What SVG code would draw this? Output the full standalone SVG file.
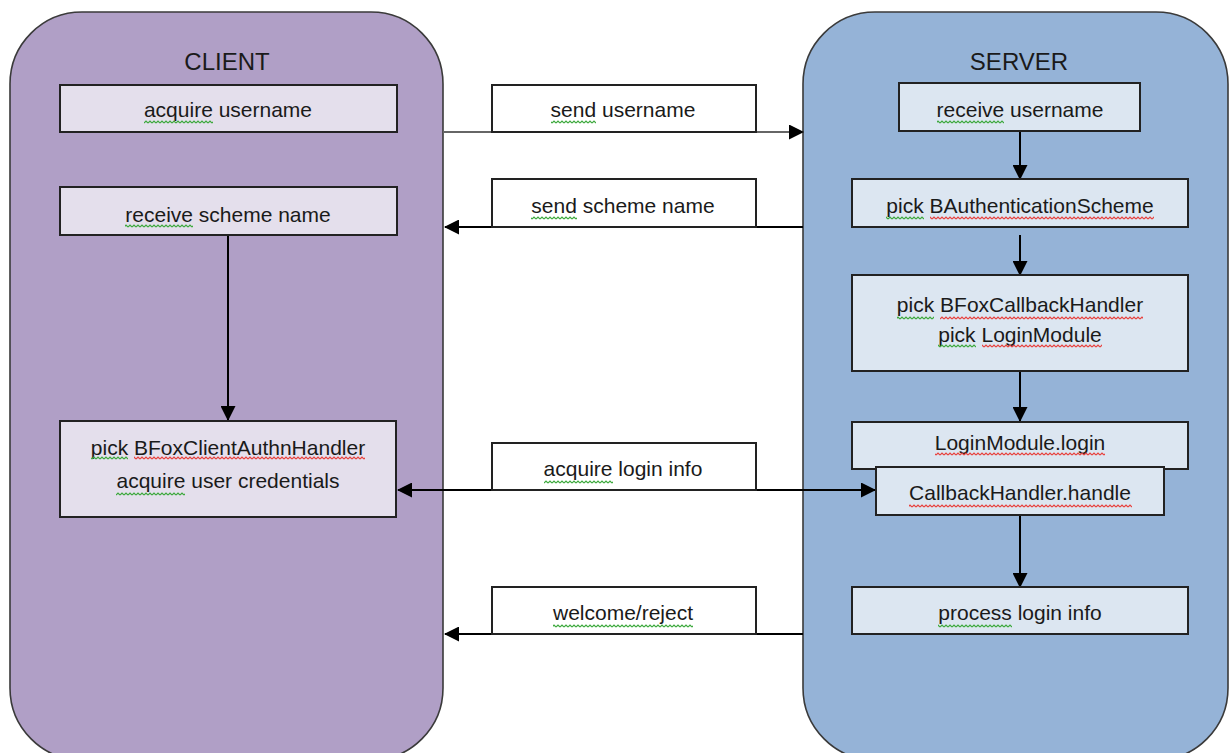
<svg xmlns="http://www.w3.org/2000/svg" width="1230" height="753" viewBox="0 0 1230 753">
<style>
.panel{stroke:#3a3a3a;stroke-width:1.6}
.cb{fill:#E4DFEC;stroke:#222;stroke-width:2}
.sb{fill:#DCE6F1;stroke:#222;stroke-width:2}
.mb{fill:#fff;stroke:#222;stroke-width:2}
text{font-family:"Liberation Sans",Arial,sans-serif;font-size:21px;fill:#1a1a1a;text-anchor:middle}
.title{font-size:24px}
.g{fill:url(#wg)}
.r{fill:url(#wr)}
.ln{stroke:#000;stroke-width:2;fill:none}
</style>
<defs>
<marker id="ah" markerUnits="userSpaceOnUse" markerWidth="15" markerHeight="15" refX="14" refY="7.5" orient="auto-start-reverse">
<path d="M0,0 L15,7.5 L0,15 z" fill="#000"/>
</marker>
<pattern id="wg" width="4" height="4" patternUnits="userSpaceOnUse">
<path d="M0,3 L2,1 L4,3" stroke="#3aa83a" stroke-width="1.2" fill="none"/>
</pattern>
<pattern id="wr" width="4" height="4" patternUnits="userSpaceOnUse">
<path d="M0,3 L2,1 L4,3" stroke="#e8403a" stroke-width="1.2" fill="none"/>
</pattern>
</defs>
<rect width="1230" height="753" fill="#fff"/>
<g id="client">
<rect class="panel" x="10" y="12" width="433" height="748" rx="72" fill="#B09FC6"/>
<text class="title" x="227" y="70">CLIENT</text>
</g>
<g id="server">
<rect class="panel" x="803" y="12" width="425" height="748" rx="72" fill="#95B3D7"/>
<text class="title" x="1019" y="70">SERVER</text>
</g>
<g id="connectors">
<line x1="443" y1="132" x2="803" y2="132" stroke="#666" stroke-width="2" marker-end="url(#ah)"/>
<line class="ln" x1="803" y1="227" x2="445" y2="227" marker-end="url(#ah)"/>
<line class="ln" x1="398" y1="490" x2="875" y2="490" marker-start="url(#ah)" marker-end="url(#ah)"/>
<line class="ln" x1="803" y1="634" x2="445" y2="634" marker-end="url(#ah)"/>
<line class="ln" x1="228" y1="235" x2="228" y2="420" marker-end="url(#ah)"/>
<line class="ln" x1="1020" y1="131" x2="1020" y2="179" marker-end="url(#ah)"/>
<line class="ln" x1="1020" y1="235" x2="1020" y2="275" marker-end="url(#ah)"/>
<line class="ln" x1="1020" y1="347" x2="1020" y2="421" marker-end="url(#ah)"/>
<line class="ln" x1="1020" y1="515" x2="1020" y2="587" marker-end="url(#ah)"/>
</g>
<g id="acquire-username">
<rect class="cb" x="60" y="85" width="337" height="47"/>
<text x="228" y="117"><tspan>acquire</tspan> username</text>
<rect class="g" x="144" y="120" width="69" height="4"/>
</g>
<g id="receive-scheme-name">
<rect class="cb" x="60" y="187" width="337" height="48"/>
<text x="228" y="222"><tspan>receive</tspan> scheme name</text>
<rect class="g" x="125" y="224" width="68" height="4"/>
</g>
<g id="pick-client-handler">
<rect class="cb" x="60" y="421" width="336" height="96"/>
<text x="228" y="455"><tspan>pick</tspan> <tspan>BFoxClientAuthnHandler</tspan></text>
<text x="228" y="488"><tspan>acquire</tspan> user credentials</text>
<rect class="g" x="91" y="456" width="37" height="4"/>
<rect class="r" x="134" y="456" width="231" height="4"/>
<rect class="g" x="116" y="492" width="69" height="4"/>
</g>
<g id="send-username">
<rect class="mb" x="492" y="85" width="264" height="47"/>
<text x="623" y="117"><tspan>send</tspan> username</text>
<rect class="g" x="551" y="120" width="45" height="4"/>
</g>
<g id="send-scheme-name">
<rect class="mb" x="492" y="179" width="264" height="48"/>
<text x="623" y="213"><tspan>send</tspan> scheme name</text>
<rect class="g" x="531" y="216" width="46" height="4"/>
</g>
<g id="acquire-login-info">
<rect class="mb" x="492" y="443" width="264" height="47"/>
<text x="623" y="476"><tspan>acquire</tspan> login info</text>
<rect class="g" x="544" y="480" width="69" height="4"/>
</g>
<g id="welcome-reject">
<rect class="mb" x="492" y="587" width="264" height="47"/>
<text x="623" y="620"><tspan>welcome/reject</tspan></text>
<rect class="g" x="553" y="624" width="140" height="4"/>
</g>
<g id="receive-username">
<rect class="sb" x="899" y="83" width="241" height="48"/>
<text x="1020" y="117"><tspan>receive</tspan> username</text>
<rect class="g" x="937" y="120" width="67" height="4"/>
</g>
<g id="pick-scheme">
<rect class="sb" x="852" y="179" width="336" height="48"/>
<text x="1020" y="213"><tspan>pick</tspan> <tspan>BAuthenticationScheme</tspan></text>
<rect class="g" x="886" y="216" width="38" height="4"/>
<rect class="r" x="930" y="216" width="224" height="4"/>
</g>
<g id="pick-handler-module">
<rect class="sb" x="852" y="275" width="336" height="96"/>
<text x="1020" y="312"><tspan>pick</tspan> <tspan>BFoxCallbackHandler</tspan></text>
<text x="1020" y="342"><tspan>pick</tspan> <tspan>LoginModule</tspan></text>
<rect class="g" x="897" y="316" width="37" height="4"/>
<rect class="r" x="940" y="316" width="203" height="4"/>
<rect class="g" x="938" y="344" width="38" height="4"/>
<rect class="r" x="982" y="344" width="120" height="4"/>
</g>
<g id="login-module-login">
<rect class="sb" x="852" y="422" width="336" height="47"/>
<text x="1020" y="450"><tspan>LoginModule.login</tspan></text>
<rect class="r" x="935" y="452" width="170" height="4"/>
</g>
<g id="callback-handle">
<rect class="sb" x="876" y="467" width="288" height="48"/>
<text x="1020" y="500"><tspan>CallbackHandler.handle</tspan></text>
<rect class="r" x="909" y="504" width="223" height="4"/>
</g>
<g id="process-login-info">
<rect class="sb" x="852" y="587" width="336" height="47"/>
<text x="1020" y="620"><tspan>process</tspan> login info</text>
<rect class="g" x="938" y="624" width="74" height="4"/>
</g>
</svg>
